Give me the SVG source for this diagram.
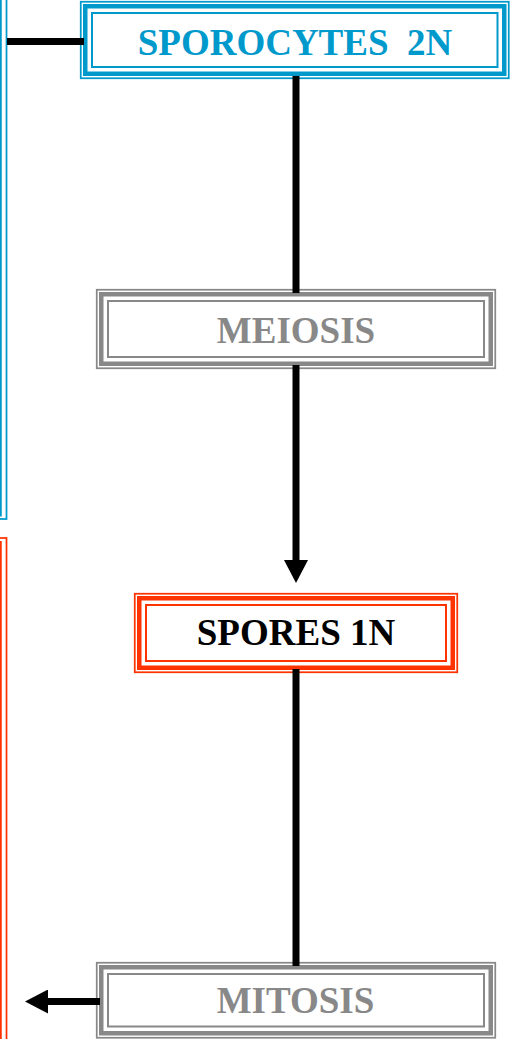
<svg xmlns="http://www.w3.org/2000/svg" width="512" height="1039" viewBox="0 0 512 1039">
  <defs>
    <style>
      .o { fill: none; stroke-width: 1.75; }
      .t { fill: none; stroke-width: 4.5; }
      .i { fill: none; stroke-width: 2; }
      .blue { stroke: #0099CC; }
      .red { stroke: #FF3300; }
      .gray { stroke: #888888; }
      .lbl { font-family: "Liberation Serif", "Times New Roman", serif; font-weight: bold; font-size: 37px; text-anchor: middle; white-space: pre; }
      .conn { fill: none; stroke: #000000; stroke-width: 7; }
    </style>
    <marker id="arrow" markerUnits="userSpaceOnUse" markerWidth="24" markerHeight="24" refX="0" refY="12" orient="auto" viewBox="0 0 23 24">
      <path d="M0,0 L23,12 L0,24 Z" fill="#000000"/>
    </marker>
  </defs>

  <g id="node-left-blue">
    <rect class="o blue" x="-400" y="-400" width="406.5" height="919"/>
    <rect class="t blue" x="-400" y="-400" width="399.5" height="914.25"/>
  </g>

  <g id="node-left-red">
    <rect class="o red" x="-400" y="538" width="406.5" height="900"/>
    <rect class="t red" x="-400" y="543.25" width="399.5" height="900"/>
  </g>

  <g id="node-sporocytes">
    <rect x="80" y="1" width="429.5" height="78" fill="#ffffff"/>
    <rect class="o blue" x="80.75" y="1.75" width="428" height="76.5"/>
    <rect class="t blue" x="85.25" y="6.25" width="419" height="67.5"/>
    <rect class="i blue" x="92" y="13" width="405.5" height="54"/>
    <text class="lbl" x="295" y="55" fill="#0099CC">SPOROCYTES  2N</text>
  </g>

  <g id="node-meiosis">
    <rect x="96" y="289" width="400" height="80" fill="#ffffff"/>
    <rect class="o gray" x="96.75" y="289.75" width="398.5" height="78.5"/>
    <rect class="t gray" x="101.25" y="294.25" width="389.5" height="69.5"/>
    <rect class="i gray" x="108" y="301" width="376" height="56"/>
    <text class="lbl" x="296" y="343" fill="#888888">MEIOSIS</text>
  </g>

  <g id="node-spores">
    <rect x="134" y="593" width="324" height="80" fill="#ffffff"/>
    <rect class="o red" x="134.75" y="593.75" width="322.5" height="78.5"/>
    <rect class="t red" x="139.25" y="598.25" width="313.5" height="69.5"/>
    <rect class="i red" x="146" y="605" width="300" height="56"/>
    <text class="lbl" x="296" y="645" fill="#000000">SPORES 1N</text>
  </g>

  <g id="node-mitosis">
    <rect x="96" y="962" width="400" height="76.5" fill="#ffffff"/>
    <rect class="o gray" x="96.75" y="962.75" width="398.5" height="75"/>
    <rect class="t gray" x="101.25" y="967.25" width="389.5" height="66"/>
    <rect class="i gray" x="108" y="974" width="376" height="52.5"/>
    <text class="lbl" x="295.5" y="1013" fill="#888888">MITOSIS</text>
  </g>

  <g id="connectors">
    <line class="conn" x1="7" y1="41.5" x2="84" y2="41.5"/>
    <line class="conn" x1="296" y1="76" x2="296" y2="293"/>
    <line class="conn" x1="296" y1="365" x2="296" y2="560" marker-end="url(#arrow)"/>
    <line class="conn" x1="296" y1="669" x2="296" y2="966"/>
    <line class="conn" x1="100" y1="1001.5" x2="48" y2="1001.5" marker-end="url(#arrow)"/>
  </g>
</svg>
